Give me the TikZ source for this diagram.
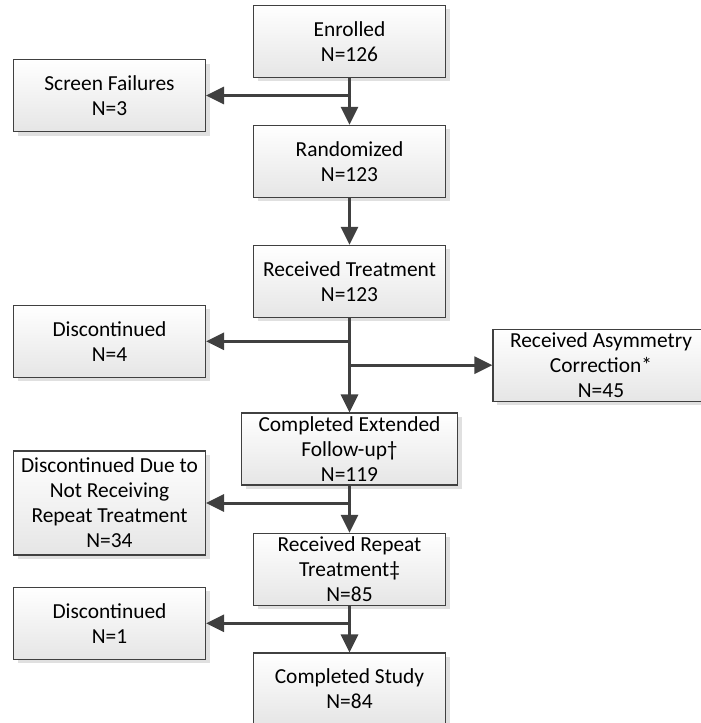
\documentclass[tikz,border=0pt]{standalone}
\usepackage{fontspec}
\setmainfont{Carlito}
\usetikzlibrary{arrows.meta,shadows}
\definecolor{linecol}{HTML}{404040}
\definecolor{shadowcol}{HTML}{E0E0E0}
\begin{document}
\begin{tikzpicture}[x=1pt,y=-1pt,
  flowbox/.style={draw=linecol, line width=1.1pt, top color=white, bottom color=black!10,
    minimum height=72pt, minimum width=192pt, inner sep=0pt, align=center,
    font=\fontsize{21.4}{25}\selectfont,
    drop shadow={shadow xshift=4pt, shadow yshift=-4pt, fill=shadowcol, opacity=1}},
  widebox/.style={flowbox, minimum width=216pt},
  tallbox/.style={flowbox, minimum height=104pt},
  flowarrow/.style={draw=linecol, line width=3pt, -{Triangle[length=18pt,width=17pt]}},
  flowline/.style={draw=linecol, line width=3pt}]
\useasboundingbox (0,0) rectangle (701,723);
\node[flowbox] (enr) at (349.5,41.3) {Enrolled\\N=126};
\node[flowbox] (scr) at (109.5,95.5) {Screen Failures\\N=3};
\node[flowbox] (rnd) at (349.5,161.3) {Randomized\\N=123};
\node[flowbox] (rtx) at (349.5,281.3) {Received Treatment\\N=123};
\node[flowbox] (dis1) at (109.5,341.3) {Discontinued\\N=4};
\node[widebox] (asy) at (601,365.2) {Received Asymmetry\\Correction*\\N=45};
\node[widebox] (cef) at (349.5,449) {Completed Extended\\Follow-up†\\N=119};
\node[tallbox] (dnr) at (109.5,503) {Discontinued Due to\\Not Receiving\\Repeat Treatment\\N=34};
\node[flowbox] (rrt) at (349.5,569.3) {Received Repeat\\Treatment‡\\N=85};
\node[flowbox] (dis2) at (109.5,623.3) {Discontinued\\N=1};
\node[flowbox] (cst) at (349.5,689) {Completed Study\\N=84};

\coordinate (b1) at (enr.south |- scr.east);
\coordinate (b2) at (rtx.south |- dis1.east);
\coordinate (b3) at (rtx.south |- asy.west);
\coordinate (b4) at (cef.south |- dnr.east);
\coordinate (b5) at (rrt.south |- dis2.east);

\draw[flowarrow] (enr.south) -- (rnd.north);
\draw[flowarrow] ([xshift=1.5pt]b1) -- (scr.east);
\draw[flowarrow] (rnd.south) -- (rtx.north);
\draw[flowarrow] (rtx.south) -- (cef.north);
\draw[flowarrow] ([xshift=1.5pt]b2) -- (dis1.east);
\draw[flowarrow] ([xshift=-1.5pt]b3) -- (asy.west);
\draw[flowarrow] (cef.south) -- (rrt.north);
\draw[flowarrow] ([xshift=1.5pt]b4) -- (dnr.east);
\draw[flowarrow] (rrt.south) -- (cst.north);
\draw[flowarrow] ([xshift=1.5pt]b5) -- (dis2.east);
\end{tikzpicture}
\end{document}
